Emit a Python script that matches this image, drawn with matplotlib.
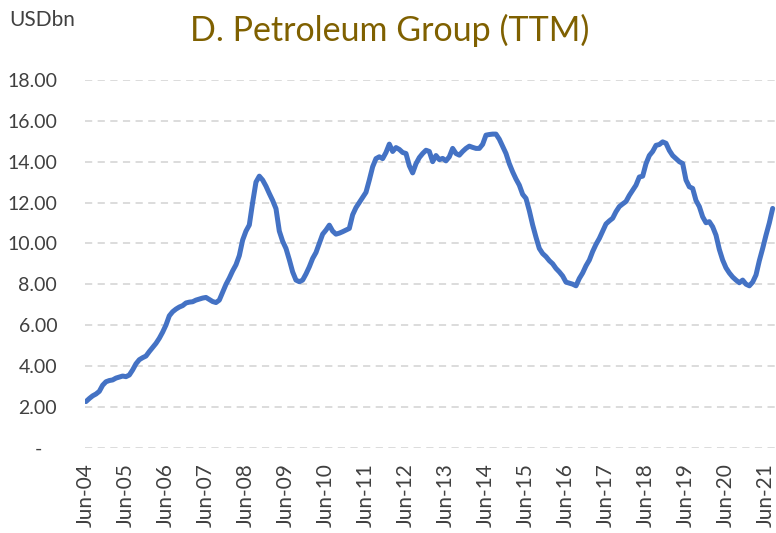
import numpy as np
import matplotlib.pyplot as plt

# --- Data: monthly TTM values, Jun-04 .. Aug-21 (USD bn) ---
values = [
    2.25, 2.40, 2.53, 2.62, 2.75, 3.05, 3.22, 3.28, 3.31, 3.40, 3.45, 3.50,   # Jun-04
    3.47, 3.55, 3.80, 4.10, 4.30, 4.40, 4.48, 4.70, 4.90, 5.10, 5.35, 5.65,   # Jun-05
    6.00, 6.45, 6.65, 6.78, 6.88, 6.95, 7.08, 7.12, 7.14, 7.22, 7.27, 7.32,   # Jun-06
    7.35, 7.25, 7.15, 7.10, 7.22, 7.60, 7.99, 8.30, 8.65, 8.95, 9.40, 10.16,  # Jun-07
    10.60, 10.90, 12.00, 13.00, 13.29, 13.10, 12.80, 12.44, 12.10, 11.70, 10.60, 10.10,  # Jun-08
    9.75, 9.20, 8.60, 8.20, 8.12, 8.20, 8.50, 8.85, 9.26, 9.55, 10.00, 10.45,  # Jun-09
    10.65, 10.89, 10.60, 10.45, 10.50, 10.57, 10.65, 10.73, 11.40, 11.75, 12.00, 12.25,  # Jun-10
    12.50, 13.10, 13.75, 14.15, 14.24, 14.15, 14.45, 14.86, 14.50, 14.69, 14.60, 14.45,  # Jun-11
    14.40, 13.80, 13.45, 13.90, 14.20, 14.40, 14.56, 14.50, 14.00, 14.30, 14.10, 14.16,  # Jun-12
    14.04, 14.24, 14.65, 14.40, 14.32, 14.50, 14.65, 14.76, 14.70, 14.65, 14.65, 14.85,  # Jun-13
    15.30, 15.33, 15.35, 15.35, 15.10, 14.75, 14.40, 13.90, 13.50, 13.15, 12.85, 12.40,  # Jun-14
    12.20, 11.60, 10.90, 10.30, 9.75, 9.50, 9.35, 9.15, 9.00, 8.77, 8.60, 8.40,  # Jun-15
    8.10, 8.05, 8.00, 7.92, 8.28, 8.55, 8.90, 9.18, 9.60, 9.95, 10.24, 10.60,  # Jun-16
    10.95, 11.10, 11.23, 11.55, 11.80, 11.93, 12.05, 12.35, 12.60, 12.85, 13.25, 13.29,  # Jun-17
    13.90, 14.30, 14.50, 14.80, 14.84, 14.97, 14.90, 14.55, 14.30, 14.15, 14.00, 13.91,  # Jun-18
    13.10, 12.77, 12.69, 12.10, 11.80, 11.30, 11.01, 11.06, 10.81, 10.40, 9.70, 9.18,  # Jun-19
    8.80, 8.55, 8.35, 8.20, 8.07, 8.20, 8.00, 7.92, 8.10, 8.45, 9.15, 9.75,  # Jun-20
    10.40, 11.00, 11.71,  # Jun-21
]
year_labels = ["Jun-%02d" % y for y in range(4, 22)]
y_ticks = [0, 2, 4, 6, 8, 10, 12, 14, 16, 18]

plt.rcParams['font.family'] = ['Lato', 'DejaVu Sans']

fig = plt.figure(figsize=(7.76, 5.33), dpi=100)
ax = fig.add_axes([0.1095, 0.1604, 0.8905, 0.6895])

months = np.arange(len(values))
ax.plot(months, values, color='#4472C4', linewidth=3.6, solid_capstyle='round',
        solid_joinstyle='round', zorder=3)

# axes limits / ticks
ax.set_xlim(-0.3, 207)
ax.set_ylim(0, 18)
ax.set_yticks(y_ticks)
ax.set_yticklabels(["-   " if v == 0 else "%.2f" % v for v in y_ticks],
                   fontsize=14, color='#404040')
ax.set_xticks(np.arange(len(year_labels)) * 12)
ax.set_xticklabels(year_labels, rotation=90, fontsize=15, color='#404040')
ax.tick_params(axis='both', length=0)
ax.tick_params(axis='y', pad=20)
ax.tick_params(axis='x', pad=11)

# dashed grey gridlines, no spines
ax.yaxis.grid(True, color='#D9D9D9', linestyle=(0, (4, 3)), linewidth=1.3)
ax.set_axisbelow(True)
for s in ax.spines.values():
    s.set_visible(False)

fig.text(0.012, 0.963, "USDbn", fontsize=15, color='#404040', va='center')
fig.text(0.502, 0.943, "D. Petroleum Group (TTM)", fontsize=24.5, color='#7F6000',
         ha='center', va='center')

fig.savefig("out.png", dpi=100)
